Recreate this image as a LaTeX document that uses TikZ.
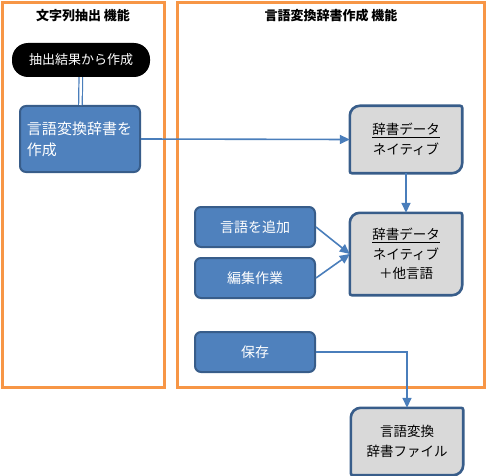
\documentclass[tikz,border=0pt]{standalone}
\usepackage{fontspec}
\setmainfont{Noto Sans CJK JP}
\usetikzlibrary{arrows.meta,backgrounds}
\definecolor{framebar}{HTML}{F79646}
\definecolor{stepblue}{HTML}{4F81BD}
\definecolor{stepedge}{HTML}{385D8A}
\definecolor{linkblue}{HTML}{4A7EBB}
\definecolor{datagray}{HTML}{D9D9D9}

\tikzset{
  areatitle/.style={font=\fontsize{13}{15}\selectfont\bfseries, text=black},
  stepbox/.style={rectangle, rounded corners=6pt, fill=stepblue, draw=stepedge,
    line width=2pt, text=white, font=\fontsize{14}{19}\selectfont,
    minimum width=120pt, minimum height=40pt, align=center},
  datanode/.style={rectangle, text=black, font=\fontsize{13.5}{19.5}\selectfont,
    minimum width=112pt, align=center},
  dataedge/.style={fill=datagray, draw=stepedge, line width=2.6pt},
  link/.style={draw=linkblue, line width=1.6pt, -{Triangle[length=10pt,width=9pt]}}
}

\begin{document}
\begin{tikzpicture}[x=1pt, y=-1pt]
\useasboundingbox (0,0) rectangle (487,476);

% Function areas
\draw[framebar, line width=3pt] (2.5,2.5) rectangle (164.5,387);
\draw[framebar, line width=3pt] (177.5,2.5) rectangle (484.5,387);
\node[areatitle] (extractTitle) at (83,16) {文字列抽出 機能};
\node[areatitle] (dictTitle) at (331,16) {言語変換辞書作成 機能};

% Start terminal
\node[rectangle, rounded corners=16pt, fill=black, text=white,
  font=\fontsize{13}{16}\selectfont, minimum width=138pt, minimum height=34pt]
  (start) at (81,60) {抽出結果から作成};

% Steps
\node[stepbox, text width=106pt, inner xsep=5pt, minimum height=66pt, align=left,
  font=\fontsize{15}{21}\selectfont]
  (makeDict) at (80,139) {言語変換辞書を\\作成};
\node[stepbox] (addLang) at (255,227) {言語を追加};
\node[stepbox] (editWork) at (255,278) {編集作業};
\node[stepbox] (save) at (255,352) {保存};

% Data
\node[datanode, minimum height=67pt] (nativeData) at (406,139.5) {\underline{辞書データ}\\ネイティブ};
\node[datanode, minimum height=82pt] (mixedData) at (406,254) {\underline{辞書データ}\\ネイティブ\\＋他言語};
\node[datanode, minimum height=67pt] (dictFile) at (407,441.5) {言語変換\\辞書ファイル};

\begin{scope}[on background layer]
  \foreach \n in {nativeData,mixedData,dictFile}
    \draw[dataedge] (\n.north) [rounded corners=2pt] -| (\n.east)
      [rounded corners=10pt] |- (\n.south) [rounded corners=2pt] -| (\n.west)
      [rounded corners=10pt] |- (\n.north);
\end{scope}

% Connectors
\draw[linkblue, line width=1.2pt, double=white, double distance=2.4pt] (start) -- (makeDict);
\draw[link] (makeDict.east) -- (nativeData.west);
\draw[link] (nativeData) -- (mixedData);
\draw[link] (addLang.east) -- (mixedData.west);
\draw[link] (editWork.east) -- (mixedData.west);
\draw[link] (save.east) -| (dictFile.north);

\end{tikzpicture}
\end{document}
